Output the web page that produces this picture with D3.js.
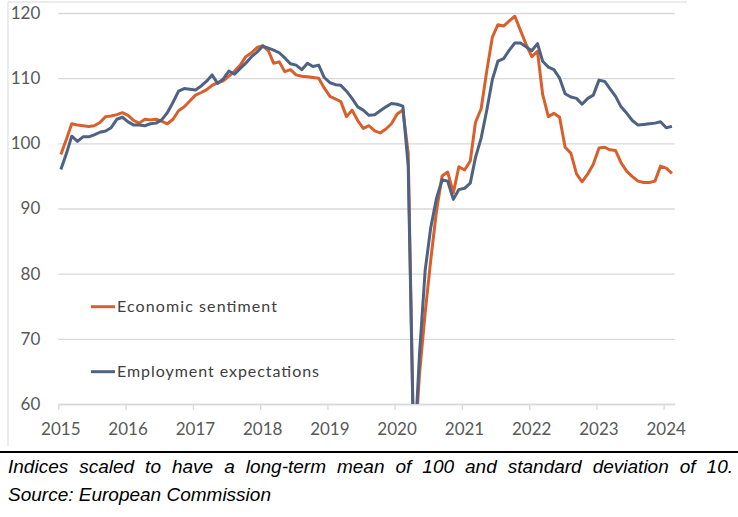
<!DOCTYPE html>
<html>
<head>
<meta charset="utf-8">
<script src="https://cdn.jsdelivr.net/npm/d3@7"></script>
<style>
  body { margin: 0; background: #fff; }
  svg { display: block; }
</style>
</head>
<body>
<div id="chart"></div>
<script>
// monthly series, Jan 2015 .. Feb 2024
var economicSentiment = [
  98.3, 100.7, 103.0, 102.8, 102.7, 102.6, 102.7, 103.2, 104.1, 104.2, 104.4, 104.7,
  104.3, 103.5, 103.1, 103.7, 103.6, 103.7, 103.4, 103.0, 103.7, 105.0, 105.6, 106.5,
  107.4, 107.8, 108.2, 108.9, 109.3, 109.6, 110.3, 111.1, 112.0, 113.3, 113.9, 114.7,
  115.0, 114.2, 112.3, 112.5, 111.0, 111.3, 110.5, 110.3, 110.2, 110.1, 110.0, 108.5,
  107.2, 106.8, 106.4, 104.1, 105.1, 103.5, 102.3, 102.7, 101.9, 101.6, 102.2, 103.0,
  104.5, 105.1, 98.5, 51.0, 64.5, 74.0, 82.0, 89.5, 95.0, 95.6, 92.4, 96.4,
  95.9, 97.3, 103.2, 105.3, 111.0, 116.3, 118.2, 118.0, 118.8, 119.5, 117.3, 115.2,
  113.3, 114.1, 107.5, 104.1, 104.6, 104.0, 99.4, 98.5, 95.3, 94.1, 95.3, 96.8,
  99.3, 99.4, 99.0, 98.9, 97.0, 95.7, 94.9, 94.2, 94.0, 94.0, 94.2, 96.5,
  96.2, 95.4
];
var employmentExpectations = [
  96.0, 98.5, 101.1, 100.3, 101.0, 101.0, 101.3, 101.7, 101.9, 102.4, 103.7, 104.0,
  103.3, 102.8, 102.8, 102.7, 103.0, 103.1, 103.6, 104.7, 106.3, 108.0, 108.4, 108.3,
  108.2, 108.8, 109.5, 110.5, 109.2, 109.9, 111.1, 110.6, 111.5, 112.3, 113.3, 114.0,
  114.9, 114.6, 114.3, 113.9, 113.1, 112.2, 112.0, 111.3, 112.3, 111.8, 112.0, 110.1,
  109.3, 109.0, 108.9, 108.0, 106.9, 105.6, 105.1, 104.3, 104.4, 105.0, 105.6, 106.1,
  106.0, 105.7, 96.5, 51.0, 67.5, 80.5, 87.0, 91.5, 94.4, 94.2, 91.4, 92.9,
  93.1, 93.9, 97.8, 100.8, 105.0, 109.8, 112.6, 113.0, 114.3, 115.4, 115.4, 114.8,
  114.2, 115.3, 112.6, 111.7, 111.3, 110.0, 107.6, 107.1, 106.9, 106.0, 106.9, 107.4,
  109.7, 109.5, 108.4, 107.2, 105.6, 104.6, 103.5, 102.8, 102.9, 103.0, 103.1, 103.3,
  102.4, 102.6
];
var seriesNames = ["Economic sentiment", "Employment expectations"];
var seriesColors = ["#d8602c", "#4e6283"];
var yTicks = [60, 70, 80, 90, 100, 110, 120];
var captionLines = [
  "Indices scaled to have a long-term mean of 100 and standard deviation of 10.",
  "Source: European Commission"
];

var width = 738, height = 517;
var plotLeft = 58.3, plotRight = 674.7, plotTop = 13, plotBottom = 404;

// points sit in the middle of each month
var months = d3.range(economicSentiment.length).map(function(i) {
  return new Date(2015, i, 15);
});

var svg = d3.select("#chart").append("svg")
  .attr("width", width)
  .attr("height", height);

var x = d3.scaleTime()
  .domain([new Date(2015, 0, 1), new Date(2024, 2, 1)])
  .range([plotLeft, plotRight]);
var y = d3.scaleLinear().domain([60, 120]).range([plotBottom, plotTop]);

// frame
svg.append("path")
  .attr("d", "M8,2H687M8,2V446")
  .attr("fill", "none")
  .attr("stroke", "#d9d9d9")
  .attr("stroke-width", 1);

// y axis + gridlines
var yAxis = svg.append("g")
  .attr("transform", "translate(" + plotLeft + ",0)")
  .call(d3.axisLeft(y).tickValues(yTicks).tickSize(-(plotRight - plotLeft)).tickPadding(18));
yAxis.select(".domain").remove();
yAxis.selectAll(".tick line").attr("stroke", "#d9d9d9").attr("stroke-width", 1.3);
yAxis.selectAll(".tick text")
  .attr("fill", "#595959")
  .style("font-family", "Lato")
  .style("font-size", "17px");

// x axis
var xAxis = svg.append("g")
  .attr("transform", "translate(0," + plotBottom + ")")
  .call(d3.axisBottom(x).ticks(d3.timeYear.every(1)).tickFormat(d3.timeFormat("%Y"))
    .tickSize(6).tickSizeOuter(0).tickPadding(13));
xAxis.select(".domain").attr("stroke", "#d9d9d9").attr("stroke-width", 1.3);
xAxis.selectAll(".tick line").attr("stroke", "#d9d9d9").attr("stroke-width", 1.3);
xAxis.selectAll(".tick text")
  .attr("fill", "#595959")
  .attr("dx", 2)
  .style("font-family", "Lato")
  .style("font-size", "17px");

svg.append("clipPath").attr("id", "plot")
  .append("rect")
  .attr("x", plotLeft).attr("y", 0)
  .attr("width", plotRight - plotLeft).attr("height", plotBottom);

var line = d3.line()
  .x(function(d, i) { return x(months[i]); })
  .y(function(d) { return y(d); });

var lines = svg.append("g").attr("clip-path", "url(#plot)");
[economicSentiment, employmentExpectations].forEach(function(s, k) {
  lines.append("path")
    .datum(s)
    .attr("d", line)
    .attr("fill", "none")
    .attr("stroke", seriesColors[k])
    .attr("stroke-width", 3)
    .attr("stroke-linejoin", "round");
});

// legend
var legendY = [306.7, 371.7];
var legendW = [160, 202];
var legend = svg.selectAll(".legend")
  .data(seriesNames)
  .enter().append("g")
  .attr("transform", function(d, i) { return "translate(0," + legendY[i] + ")"; });
legend.append("line")
  .attr("x1", 91).attr("x2", 115)
  .attr("stroke", function(d, i) { return seriesColors[i]; })
  .attr("stroke-width", 3);
legend.append("text")
  .attr("x", 117)
  .attr("dy", "0.35em")
  .attr("fill", "#404040")
  .attr("textLength", function(d, i) { return legendW[i]; })
  .attr("lengthAdjust", "spacing")
  .style("font-family", "Lato")
  .style("font-size", "16px")
  .text(function(d) { return d; });

// separator and caption
svg.append("line")
  .attr("x1", 0).attr("x2", width)
  .attr("y1", 452).attr("y2", 452)
  .attr("stroke", "#000")
  .attr("stroke-width", 2.2);

var caption = svg.selectAll(".caption")
  .data(captionLines)
  .enter().append("text")
  .attr("x", 8)
  .attr("y", function(d, i) { return 473 + i * 28; })
  .attr("fill", "#000")
  .style("font-family", "Liberation Sans")
  .style("font-style", "italic")
  .style("font-size", "19px")
  .text(function(d) { return d; });

// first line is justified to the full width
var first = caption.filter(function(d, i) { return i === 0; });
var natural = first.node().getComputedTextLength();
var gaps = captionLines[0].split(" ").length - 1;
first.style("word-spacing", ((733 - 8 - natural) / gaps) + "px");
</script>
</body>
</html>
